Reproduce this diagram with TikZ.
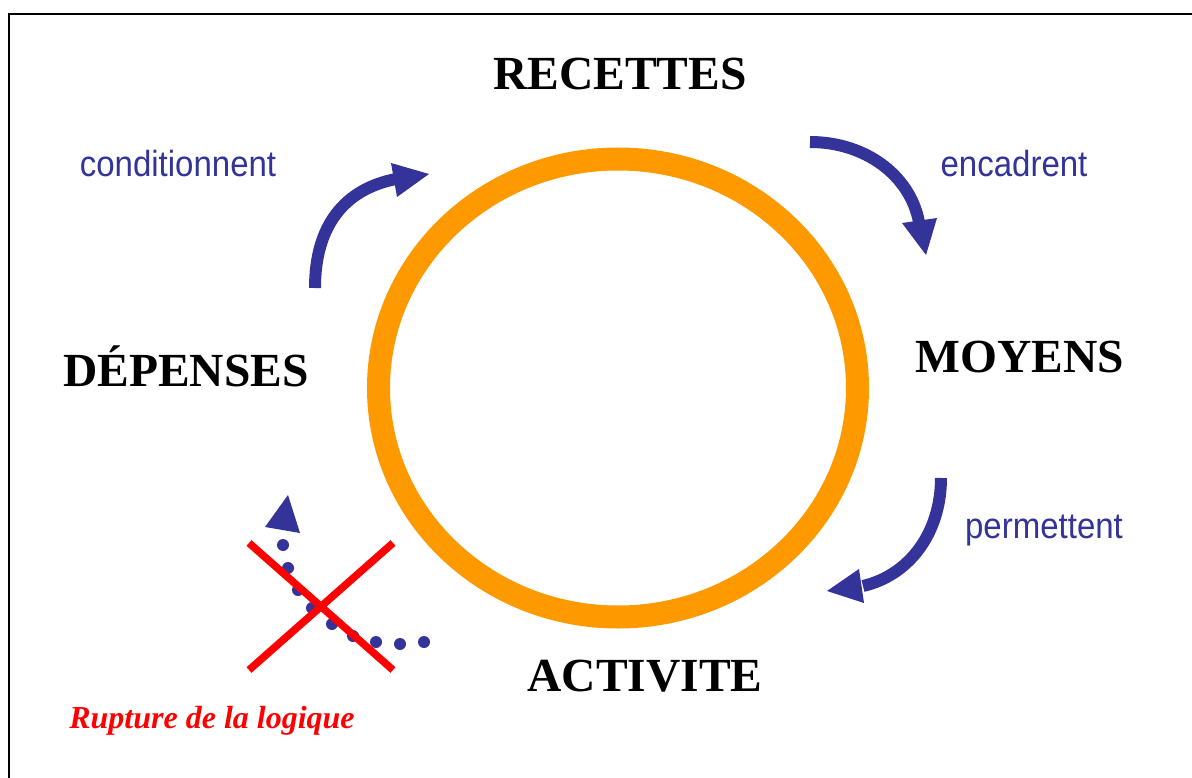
\documentclass[tikz,border=0pt]{standalone}
\usepackage{fontspec}
\setmainfont{Liberation Serif}
\newfontfamily\arialfont{Liberation Sans}
\definecolor{cycblue}{HTML}{333399}
\definecolor{cycorange}{HTML}{FF9900}
\definecolor{cycred}{HTML}{FF0000}
\begin{document}
\begin{tikzpicture}[x=1pt,y=-1pt,
  bigword/.style={font=\fontsize{47.5}{57}\selectfont\bfseries, inner sep=0pt, anchor=base},
  verbword/.style={font=\arialfont\fontsize{33}{40}\selectfont, text=cycblue, inner sep=0pt, anchor=base},
  shaft/.style={draw=cycblue, line width=12pt},
  headtri/.style={fill=cycblue},
  dotmark/.style={fill=cycblue},
  crossline/.style={draw=cycred, line width=7.5pt}]
\useasboundingbox (0,0) rectangle (1192,778);
\fill[white] (0,0) rectangle (1192,778);
% frame
\draw[line width=2.5pt] (9,778) -- (9,14) -- (1192,14);
% cycle ring
\draw[cycorange, line width=23pt] (618,388) ellipse [x radius=239.5, y radius=229];
% words
\node[bigword] (rec) at (620,90) {RECETTES};
\node[bigword] (moy) at (1020,372) {MOYENS};
\node[bigword] (dep) at (186,386) {DÉPENSES};
\node[bigword] (act) at (645,691) {ACTIVITE};
\node[verbword] (cond) at (178,177) {\scalebox{1}[1.1]{conditionnent}};
\node[verbword] (enc) at (1014,177) {\scalebox{1}[1.1]{encadrent}};
\node[verbword] (perm) at (1044,538) {\scalebox{1}[1.1]{permettent}};
\node[font=\fontsize{32}{38}\selectfont\bfseries\itshape, text=cycred, inner sep=0pt, anchor=base] (rupt) at (212,728) {Rupture de la logique};
% arrow coordinates
\coordinate (c1s) at (315,288);
\coordinate (c1e) at (396,179);
\coordinate (c2s) at (810,142);
\coordinate (c2e) at (919,222);
\coordinate (c3s) at (941,478);
\coordinate (c3e) at (863,586);
% arrows
\draw[shaft] (c1s) .. controls (315,225) and (345,189) .. (c1e);
\fill[headtri] (391,163) -- (429,174) -- (397,197) -- cycle;
\draw[shaft] (c2s) .. controls (865,142) and (910,175) .. (c2e);
\fill[headtri] (902,223) -- (937,218) -- (926,255) -- cycle;
\draw[shaft] (c3s) .. controls (941,532) and (910,575) .. (c3e);
\fill[headtri] (859,569) -- (827,591) -- (864,603) -- cycle;
% broken dotted arrow
\foreach \px/\py in {424/642,400/644,376/642,353/636,332/624,312/608,298/590,288/568,283/545}
  \fill[dotmark] (\px,\py) circle [radius=6];
\fill[headtri] (265,527) -- (288,495) -- (300,533) -- cycle;
% red cross
\draw[crossline] (249,543) -- (393,670);
\draw[crossline] (249,670) -- (393,543);
\end{tikzpicture}
\end{document}
